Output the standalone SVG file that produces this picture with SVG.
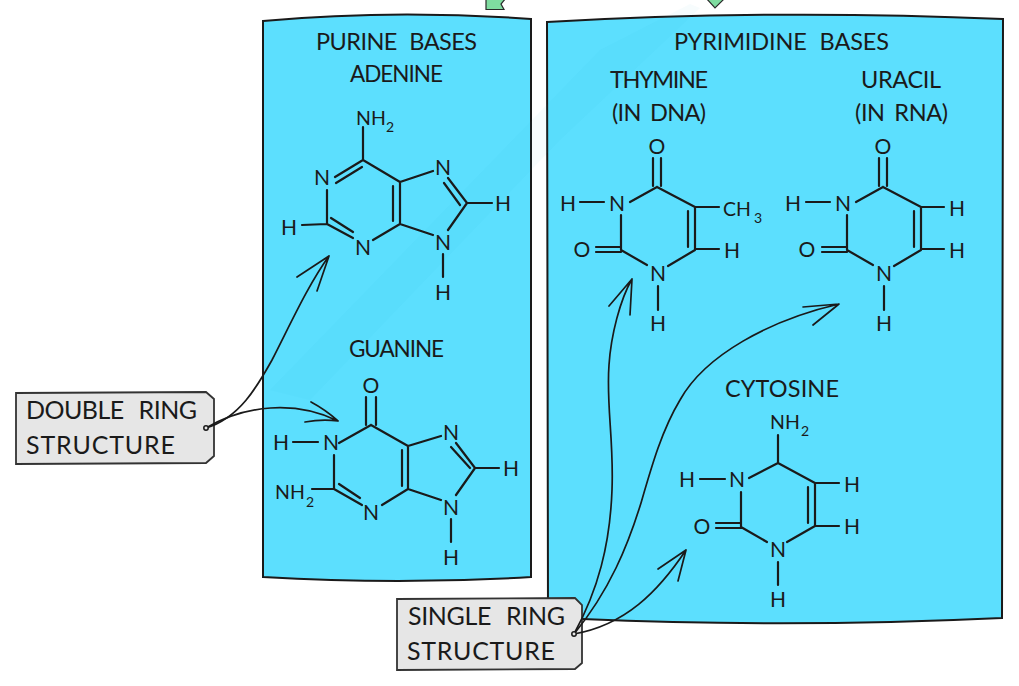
<svg xmlns="http://www.w3.org/2000/svg" width="1019" height="686" viewBox="0 0 1019 686">
<style>
text{font-family:Lato,"Open Sans","Liberation Sans",sans-serif;fill:#1a1a1a;font-weight:400}
.t{font-size:23.5px;word-spacing:7px}
.m{font-size:22.5px}
.l{font-size:25px;word-spacing:9px}
.a{font-size:21px;text-anchor:middle}
.n{font-size:19.5px}
.s{font-size:14px;text-anchor:middle}
.b{fill:none;stroke:#1a1a1a;stroke-width:2.2;stroke-linecap:round;stroke-linejoin:round}
.c{fill:none;stroke:#1a1a1a;stroke-width:1.7;stroke-linecap:round;stroke-linejoin:round}
.p{fill:#5cdffe;stroke:#1a1a1a;stroke-width:2}
.g{fill:#e6e6e6;stroke:#333;stroke-width:1.8}
.f{fill:#7fdca0;stroke:#2a2a2a;stroke-width:1.2}
.d{fill:#e6e6e6;stroke:#1a1a1a;stroke-width:1.5}
</style>
<rect width="1019" height="686" fill="#fff"/>
<g id="top-fragments">
<path class="f" d="M486 -2V9.5H504L501 4L506 -2Z"/>
<path class="f" d="M706 -2L715 8L725 -2Z"/>
</g>
<g id="purine-panel">
<path class="p" d="M263 21Q393 9 531 19L531 577Q400 585 263 577Z"/>
<text class="t" x="316" y="50" textLength="161">PURINE BASES</text>
<text class="t m" x="350" y="82" textLength="93">ADENINE</text>
</g>
<g id="pyrimidine-panel">
<path class="p" d="M547 22Q773 9 1003 19L1002 618Q790 628 582 619L548 617Z"/>
<text class="t" x="674" y="50" textLength="215">PYRIMIDINE BASES</text>
<text class="t" x="610" y="88" textLength="98">THYMINE</text>
<text class="t" x="612" y="121" textLength="94" style="word-spacing:4px">(IN DNA)</text>
<text class="t" x="861" y="88" textLength="80">URACIL</text>
<text class="t" x="855" y="121" textLength="93" style="word-spacing:4px">(IN RNA)</text>
</g>
<path id="faint-streak" d="M690 4L600 50L270 390L310 400L560 140L700 8Z" fill="#2a9cc4" opacity=".035"/>
<g id="adenine">
<path class="b" d="M363 127V160L400 182V224L373 240M393 186V221M363 160L335 177M362 167L336 183M400 182L433 171M400 224L433 235M448 178L467 203H492M444 183L460 205M467 203L448 230M443 254V277M327 190V224L353 238M327 224L302 225M331 218L353 232"/>
<text class="a" x="322" y="185">N</text><text class="a" x="363" y="255">N</text><text class="a" x="443" y="175">N</text><text class="a" x="443" y="250">N</text><text class="a" x="289" y="235">H</text><text class="a" x="503" y="211">H</text><text class="a" x="443" y="300">H</text>
<text class="n" x="356" y="125">NH</text><text class="s" x="390" y="132">2</text>
</g>
<g id="guanine">
<text class="t m" x="349" y="357" textLength="95">GUANINE</text>
<path class="b" d="M366 397V425M376 397V425M371 425L408 446V489L382 505M371 425L339 443M293 442H318M334 455V489H312M334 489L362 505M339 484L360 498M402 450V486M408 446L441 436M408 489L441 500M456 443L475 468H499M451 447L470 468M475 468L456 495M451 519V542"/>
<text class="a" x="331" y="450">N</text><text class="a" x="371" y="520">N</text><text class="a" x="451" y="440">N</text><text class="a" x="451" y="515">N</text><text class="a" x="281" y="450">H</text><text class="a" x="511" y="476">H</text><text class="a" x="451" y="565">H</text><text class="a" x="371" y="393">O</text>
<text class="n" x="275" y="499">NH</text><text class="s" x="310" y="507">2</text>
</g>
<g id="thymine">
<path class="b" d="M653 158V186M661 158V186M657 187L695 207V250L668 266M657 187L630 202M580 202H604M621 215V250L647 265M596 247H621M596 252H621M688 211V247M695 207H719M695 249H719M658 286V310"/>
<text class="a" x="617" y="211">N</text><text class="a" x="658" y="281">N</text><text class="a" x="568" y="211">H</text><text class="a" x="732" y="258">H</text><text class="a" x="658" y="331">H</text><text class="a" x="582" y="257">O</text><text class="a" x="657" y="154">O</text>
<text class="n" x="723" y="216">CH</text><text class="s" x="758" y="223">3</text>
</g>
<g id="uracil">
<path class="b" d="M879 158V186M887 158V186M883 187L921 207V250L894 266M883 187L856 202M806 202H830M847 215V250L873 265M822 247H847M822 252H847M914 211V247M921 207H944M921 249H944M884 286V310"/>
<text class="a" x="843" y="211">N</text><text class="a" x="884" y="281">N</text><text class="a" x="793" y="211">H</text><text class="a" x="957" y="216">H</text><text class="a" x="957" y="258">H</text><text class="a" x="884" y="331">H</text><text class="a" x="807" y="257">O</text><text class="a" x="883" y="154">O</text>
</g>
<g id="cytosine">
<text class="t" x="725" y="397" textLength="114">CYTOSINE</text>
<path class="b" d="M778 435V463L815 483V526L787 542M778 463L749 478M700 479H725M741 492V527L767 542M716 523H741M716 528H741M808 487V523M815 483H839M815 526H839M778 562V585"/>
<text class="a" x="737" y="487">N</text><text class="a" x="778" y="557">N</text><text class="a" x="687" y="487">H</text><text class="a" x="852" y="492">H</text><text class="a" x="852" y="534">H</text><text class="a" x="778" y="607">H</text><text class="a" x="702" y="534">O</text>
<text class="n" x="770" y="429">NH</text><text class="s" x="805" y="436">2</text>
</g>
<g id="double-ring">
<path class="g" d="M16 393L206 392L214 399V456L206 463L16 464Z"/>
<text class="l" x="26" y="419" textLength="171">DOUBLE RING</text>
<text class="l" x="26" y="454" textLength="149">STRUCTURE</text>
</g>
<g id="single-ring">
<path class="g" d="M397 599L575 598L582 605V663L575 669L397 670Z"/>
<text class="l" x="408" y="625" textLength="157">SINGLE RING</text>
<text class="l" x="407" y="660" textLength="148">STRUCTURE</text>
</g>
<g id="connectors">
<path class="c" d="M206 428C240 418 258 385 272 360C290 325 308 285 329 256M297 277L329 256L317 291"/>
<path class="c" d="M206 428C245 405 295 400 338 421M311 402Q326 410 338 421Q322 419 305 422"/>
<path class="c" d="M574 634C598 590 610 545 612 490C614 440 606 405 609 365C611 335 620 300 632 279M609 306L632 279L630 315"/>
<path class="c" d="M574 634C610 590 628 545 641 503C652 465 662 430 680 400C705 355 770 320 839 304M803 307L839 304L813 325"/>
<path class="c" d="M574 634C625 625 658 592 686 550M658 569L686 550L678 581"/>
<circle class="d" cx="206" cy="428" r="2.2"/>
<circle class="d" cx="574" cy="634" r="2.2"/>
</g>
</svg>
